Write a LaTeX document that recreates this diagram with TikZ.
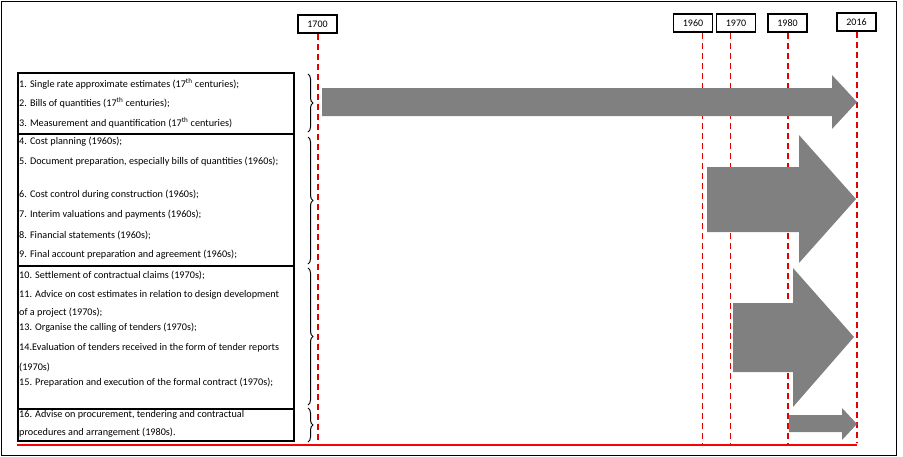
\documentclass[tikz,border=0pt]{standalone}
\usepackage{fontspec}
\setmainfont{Carlito}
\usetikzlibrary{decorations.pathreplacing}
\begin{document}
\begin{tikzpicture}[x=1pt,y=-1pt,
	year/.style={rectangle, draw=black, line width=1.6pt, minimum width=39pt, minimum height=18pt,
	             inner sep=0pt, font=\fontsize{10}{11}\selectfont},
	era/.style={draw=red!90!black, line width=1.4pt, dash pattern=on 6pt off 4pt},
	thinera/.style={era, line width=0.8pt},
	group/.style={rectangle, draw=black, line width=1.6pt, minimum width=276pt, inner sep=0pt, anchor=north west},
	item/.style={anchor=west, inner sep=0pt, font=\fontsize{10.2}{11}\selectfont},
	brc/.style={decorate, decoration={brace, amplitude=5pt}, line width=1pt},
	band/.style={fill=black!50}
	]
\useasboundingbox (0,0) rectangle (903,456);
\draw[line width=0.8pt] (1.5,1.5) rectangle (896.5,455);

% years
\node[year] (y1700) at (317.5,24) {1700};
\node[year] (y1960) at (693,23)   {1960};
\node[year] (y1970) at (736,23)   {1970};
\node[year] (y1980) at (787.5,23) {1980};
\node[year] (y2016) at (856.5,22) {2016};

\coordinate (l1700) at (318,443);
\coordinate (l1960) at (702,443);
\coordinate (l1970) at (730,443);
\coordinate (l1980) at (788,443);
\coordinate (l2016) at (857,443);

\draw[era]     (y1700.south -| l1700) -- (l1700);
\draw[thinera] (y1960.south -| l1960) -- (l1960);
\draw[thinera] (y1970.south -| l1970) -- (l1970);
\draw[era]     (y1980.south -| l1980) -- (l1980);
\draw[era]     (y2016.south -| l2016) -- (l2016);
\draw[red, line width=2pt] (17,445) -- (857,445);

% groups of services
\node[group, minimum height=61pt]  (b1) at (17,72)  {};
\node[group, minimum height=132pt] (b2) at (17,133) {};
\node[group, minimum height=143pt] (b3) at (17,265) {};
\node[group, minimum height=32pt]  (b4) at (17,408) {};

\node[item] (s1)  at (19,84)  {1. Single rate approximate estimates (17\textsuperscript{th} centuries);};
\node[item] (s2)  at (19,103) {2. Bills of quantities (17\textsuperscript{th} centuries);};
\node[item] (s3)  at (19,123) {3. Measurement and quantification (17\textsuperscript{th} centuries)};
\node[item] (s4)  at (19,142) {4. Cost planning (1960s);};
\node[item] (s5)  at (19,162) {5. Document preparation, especially bills of quantities (1960s);};
\node[item] (s6)  at (19,195) {6. Cost control during construction (1960s);};
\node[item] (s7)  at (19,215) {7. Interim valuations and payments (1960s);};
\node[item] (s8)  at (19,235) {8. Financial statements (1960s);};
\node[item] (s9)  at (19,255) {9. Final account preparation and agreement (1960s);};
\node[item] (s10) at (19,275) {10. Settlement of contractual claims (1970s);};
\node[item] (s11) at (19,295) {11. Advice on cost estimates in relation to design development};
\node[item] (s11b) at (19,313) {of a project (1970s);};
\node[item] (s13) at (19,328) {13. Organise the calling of tenders (1970s);};
\node[item] (s14) at (19,348) {14.Evaluation of tenders received in the form of tender reports};
\node[item] (s14b) at (19,367) {(1970s)};
\node[item] (s15) at (19,383) {15. Preparation and execution of the formal contract (1970s);};
\node[item] (s16) at (19,415) {16. Advise on procurement, tendering and contractual};
\node[item] (s16b) at (19,433) {procedures and arrangement (1980s).};

% braces
\draw[brc] (308,74)  -- (308,132);
\draw[brc] (308,137) -- (308,264);
\draw[brc] (308,268) -- (308,405);
\draw[brc] (308,408) -- (308,442);

% periods
\fill[band] (322,88) -- (832,88) -- (832,75) -- (857,102) -- (832,129) -- (832,116) -- (322,116) -- cycle;
\fill[band] (707,167) -- (799,167) -- (799,135) -- (856,199) -- (799,263) -- (799,232) -- (707,232) -- cycle;
\fill[band] (733,303) -- (793,303) -- (793,268) -- (854,337) -- (793,407) -- (793,372) -- (733,372) -- cycle;
\fill[band] (789,415) -- (842,415) -- (842,408) -- (857,424) -- (842,440) -- (842,432) -- (789,432) -- cycle;
\end{tikzpicture}
\end{document}
